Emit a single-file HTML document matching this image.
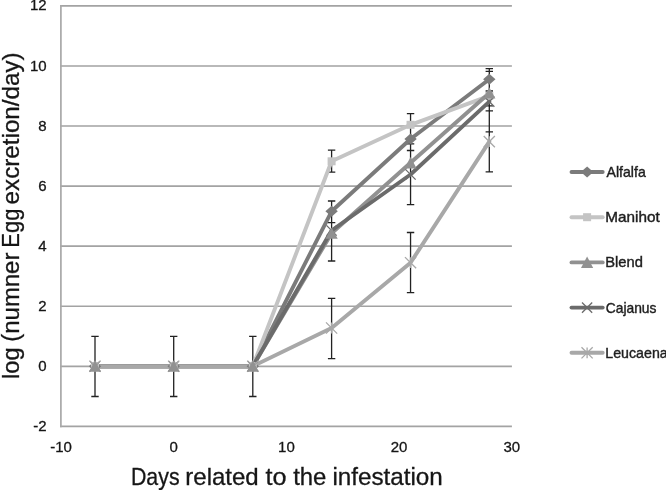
<!DOCTYPE html>
<html><head><meta charset="utf-8"><style>
html,body{margin:0;padding:0;background:#fff;}
body{width:666px;height:490px;overflow:hidden;}
svg{display:block;font-family:"Liberation Sans",sans-serif;will-change:transform;font-kerning:none;}
</style></head><body>
<svg width="666" height="490" viewBox="0 0 666 490">
<rect width="666" height="490" fill="#fff"/>
<path d="M60.1 5.85H511.9 M60.1 65.93H511.9 M60.1 126.01H511.9 M60.1 186.09H511.9 M60.1 246.17H511.9 M60.1 306.25H511.9 M60.1 366.33H511.9 M60.1 426.41H511.9" stroke="#a3a3a3" stroke-width="1.6" fill="none"/>
<path d="M60.90 5.1V427.2" stroke="#a8a8a8" stroke-width="1.7" fill="none"/>
<g font-size="15" fill="#161616" stroke="#161616" stroke-width="0.3" text-anchor="end">
<text x="46.6" y="10.4">12</text>
<text x="46.6" y="70.5">10</text>
<text x="46.6" y="130.6">8</text>
<text x="46.6" y="190.7">6</text>
<text x="46.6" y="250.8">4</text>
<text x="46.6" y="310.9">2</text>
<text x="46.6" y="370.9">0</text>
<text x="46.6" y="431.0">-2</text>
</g>
<g font-size="15" fill="#161616" stroke="#161616" stroke-width="0.3" text-anchor="middle">
<text x="61.0" y="452">-10</text>
<text x="173.7" y="452">0</text>
<text x="286.4" y="452">10</text>
<text x="399.1" y="452">20</text>
<text x="511.8" y="452">30</text>
</g>
<g font-size="23.6" fill="#161616" stroke="#161616" stroke-width="0.3">
<text transform="translate(130.95 485) scale(0.9043 1)">Days</text>
<text transform="translate(185.30 485) scale(1.0178 1)">related</text>
<text transform="translate(265.42 485) scale(1.0691 1)">to</text>
<text transform="translate(293.14 485) scale(1.0127 1)">the</text>
<text transform="translate(332.38 485) scale(1.0271 1)">infestation</text>
</g>
<g transform="translate(18.9 0) rotate(-90)" font-size="23.5" fill="#161616" stroke="#161616" stroke-width="0.3">
<text transform="translate(-379.00 0) scale(1.0084 1)">log</text>
<text transform="translate(-341.68 0) scale(1.0180 1)">(numner</text>
<text transform="translate(-247.70 0) scale(0.9356 1)">Egg</text>
<text transform="translate(-204.43 0) scale(1.0307 1)">excretion/day)</text>
</g>
<path d="M95.00 336.30V396.50 M91.30 336.30H98.70 M91.30 396.50H98.70 M173.70 336.30V396.50 M170.00 336.30H177.40 M170.00 396.50H177.40 M252.80 336.30V396.50 M249.10 336.30H256.50 M249.10 396.50H256.50 M331.60 150.20V172.20 M327.90 150.20H335.30 M327.90 172.20H335.30 M331.60 201.00V261.00 M327.90 201.00H335.30 M327.90 222.60H335.30 M327.90 261.00H335.30 M331.60 298.40V358.70 M327.90 298.40H335.30 M327.90 358.70H335.30 M410.55 113.60V204.60 M406.85 113.60H414.25 M406.85 143.90H414.25 M406.85 150.50H414.25 M406.85 204.60H414.25 M410.55 232.50V292.60 M406.85 232.50H414.25 M406.85 292.60H414.25 M489.30 68.60V171.80 M485.60 68.60H493.00 M485.60 71.40H493.00 M485.60 91.00H493.00 M485.60 105.90H493.00 M485.60 110.80H493.00 M485.60 131.90H493.00 M485.60 171.80H493.00" stroke="#222" stroke-width="1.3" fill="none"/>
<polyline points="95.00,366.20 173.70,366.20 252.80,366.20 331.60,211.30 410.55,139.00 489.30,79.20" stroke="#7b7b7b" stroke-width="3.9" fill="none" stroke-linejoin="round" stroke-linecap="round"/>
<polyline points="95.00,366.20 173.70,366.20 252.80,366.20 331.60,161.30 410.55,124.80 489.30,95.80" stroke="#c4c4c4" stroke-width="3.9" fill="none" stroke-linejoin="round" stroke-linecap="round"/>
<polyline points="95.00,366.20 173.70,366.20 252.80,366.20 331.60,233.20 410.55,162.80 489.30,93.00" stroke="#919191" stroke-width="3.9" fill="none" stroke-linejoin="round" stroke-linecap="round"/>
<polyline points="95.00,366.20 173.70,366.20 252.80,366.20 331.60,230.50 410.55,174.50 489.30,101.60" stroke="#6b6b6b" stroke-width="3.9" fill="none" stroke-linejoin="round" stroke-linecap="round"/>
<polyline points="95.00,366.20 173.70,366.20 252.80,366.20 331.60,328.00 410.55,262.70 489.30,141.60" stroke="#a8a8a8" stroke-width="3.9" fill="none" stroke-linejoin="round" stroke-linecap="round"/>
<path d="M95.00 360.70L101.20 366.20L95.00 371.70L88.80 366.20Z" fill="#7b7b7b"/>
<path d="M173.70 360.70L179.90 366.20L173.70 371.70L167.50 366.20Z" fill="#7b7b7b"/>
<path d="M252.80 360.70L259.00 366.20L252.80 371.70L246.60 366.20Z" fill="#7b7b7b"/>
<path d="M331.60 205.80L337.80 211.30L331.60 216.80L325.40 211.30Z" fill="#7b7b7b"/>
<path d="M410.55 133.50L416.75 139.00L410.55 144.50L404.35 139.00Z" fill="#7b7b7b"/>
<path d="M489.30 73.70L495.50 79.20L489.30 84.70L483.10 79.20Z" fill="#7b7b7b"/>
<rect x="91.00" y="362.20" width="8.0" height="8.0" fill="#c4c4c4"/>
<rect x="169.70" y="362.20" width="8.0" height="8.0" fill="#c4c4c4"/>
<rect x="248.80" y="362.20" width="8.0" height="8.0" fill="#c4c4c4"/>
<rect x="327.60" y="157.30" width="8.0" height="8.0" fill="#c4c4c4"/>
<rect x="406.55" y="120.80" width="8.0" height="8.0" fill="#c4c4c4"/>
<rect x="485.30" y="91.80" width="8.0" height="8.0" fill="#c4c4c4"/>
<path d="M89.90 361.10L100.10 371.30M100.10 361.10L89.90 371.30" stroke="#6b6b6b" stroke-width="1.3" fill="none"/>
<path d="M168.60 361.10L178.80 371.30M178.80 361.10L168.60 371.30" stroke="#6b6b6b" stroke-width="1.3" fill="none"/>
<path d="M247.70 361.10L257.90 371.30M257.90 361.10L247.70 371.30" stroke="#6b6b6b" stroke-width="1.3" fill="none"/>
<path d="M326.50 225.40L336.70 235.60M336.70 225.40L326.50 235.60" stroke="#6b6b6b" stroke-width="1.3" fill="none"/>
<path d="M405.45 169.40L415.65 179.60M415.65 169.40L405.45 179.60" stroke="#6b6b6b" stroke-width="1.3" fill="none"/>
<path d="M484.20 96.50L494.40 106.70M494.40 96.50L484.20 106.70" stroke="#6b6b6b" stroke-width="1.3" fill="none"/>
<path d="M89.40 360.60L100.60 371.80M100.60 360.60L89.40 371.80M95.00 360.80L95.00 371.60" stroke="#a8a8a8" stroke-width="1.3" fill="none"/>
<path d="M168.10 360.60L179.30 371.80M179.30 360.60L168.10 371.80M173.70 360.80L173.70 371.60" stroke="#a8a8a8" stroke-width="1.3" fill="none"/>
<path d="M247.20 360.60L258.40 371.80M258.40 360.60L247.20 371.80M252.80 360.80L252.80 371.60" stroke="#a8a8a8" stroke-width="1.3" fill="none"/>
<path d="M326.00 322.40L337.20 333.60M337.20 322.40L326.00 333.60M331.60 322.60L331.60 333.40" stroke="#a8a8a8" stroke-width="1.3" fill="none"/>
<path d="M404.95 257.10L416.15 268.30M416.15 257.10L404.95 268.30M410.55 257.30L410.55 268.10" stroke="#a8a8a8" stroke-width="1.3" fill="none"/>
<path d="M483.70 136.00L494.90 147.20M494.90 136.00L483.70 147.20M489.30 136.20L489.30 147.00" stroke="#a8a8a8" stroke-width="1.3" fill="none"/>
<path d="M95.00 360.40L101.10 371.80L88.90 371.80Z" fill="#919191"/>
<path d="M173.70 360.40L179.80 371.80L167.60 371.80Z" fill="#919191"/>
<path d="M252.80 360.40L258.90 371.80L246.70 371.80Z" fill="#919191"/>
<path d="M331.60 227.40L337.70 238.80L325.50 238.80Z" fill="#919191"/>
<path d="M410.55 157.00L416.65 168.40L404.45 168.40Z" fill="#919191"/>
<path d="M489.30 87.20L495.40 98.60L483.20 98.60Z" fill="#919191"/>
<path d="M571.5 172.0H602.7" stroke="#7b7b7b" stroke-width="3.9" stroke-linecap="round"/>
<path d="M587.10 166.50L593.30 172.00L587.10 177.50L580.90 172.00Z" fill="#7b7b7b"/>
<text transform="translate(606.57 176.9) scale(0.9940 1)" font-size="14.2" fill="#1e1e1e" stroke="#1e1e1e" stroke-width="0.4">Alfalfa</text>
<path d="M571.5 217.2H602.7" stroke="#c4c4c4" stroke-width="3.9" stroke-linecap="round"/>
<rect x="583.10" y="213.20" width="8.0" height="8.0" fill="#c4c4c4"/>
<text transform="translate(605.34 222.1) scale(1.0782 1)" font-size="14.2" fill="#1e1e1e" stroke="#1e1e1e" stroke-width="0.4">Manihot</text>
<path d="M571.5 262.4H602.7" stroke="#919191" stroke-width="3.9" stroke-linecap="round"/>
<path d="M587.10 256.60L593.20 268.00L581.00 268.00Z" fill="#919191"/>
<text transform="translate(605.29 267.3) scale(1.0369 1)" font-size="14.2" fill="#1e1e1e" stroke="#1e1e1e" stroke-width="0.4">Blend</text>
<path d="M571.5 307.6H602.7" stroke="#6b6b6b" stroke-width="3.9" stroke-linecap="round"/>
<path d="M582.00 302.50L592.20 312.70M592.20 302.50L582.00 312.70" stroke="#6b6b6b" stroke-width="1.3" fill="none"/>
<text transform="translate(605.70 312.5) scale(0.9751 1)" font-size="14.2" fill="#1e1e1e" stroke="#1e1e1e" stroke-width="0.4">Cajanus</text>
<path d="M571.5 352.8H602.7" stroke="#a8a8a8" stroke-width="3.9" stroke-linecap="round"/>
<path d="M581.50 347.20L592.70 358.40M592.70 347.20L581.50 358.40M587.10 347.40L587.10 358.20" stroke="#a8a8a8" stroke-width="1.3" fill="none"/>
<text transform="translate(605.34 357.7) scale(1.0000 1)" font-size="14.2" fill="#1e1e1e" stroke="#1e1e1e" stroke-width="0.4">Leucaena</text>
</svg>
</body></html>
